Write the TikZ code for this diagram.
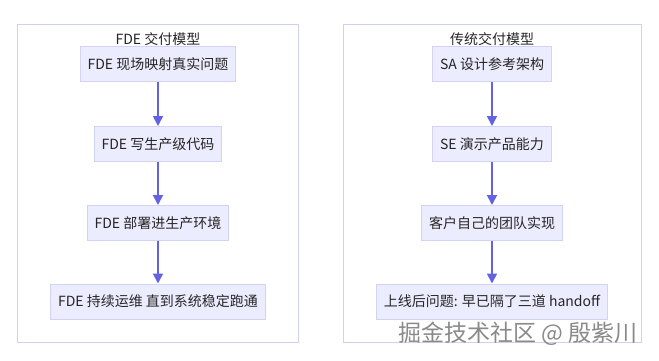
\documentclass[tikz,border=0pt]{standalone}
\usepackage{fontspec}
\setmainfont{Noto Sans CJK SC}
\usetikzlibrary{arrows.meta}
\definecolor{nodefill}{HTML}{ECECFF}
\definecolor{nodeline}{HTML}{D2D2F4}
\definecolor{clusterline}{HTML}{D0D0F2}
\definecolor{arrowc}{HTML}{6262E2}
\definecolor{wmark}{HTML}{8A8A8A}
\tikzset{
  stepbox/.style={draw=nodeline, fill=nodefill, line width=1pt, minimum height=35pt, inner xsep=7.5pt, inner ysep=0pt, font=\fontsize{14}{16}\selectfont, text=black!85},
  cluster/.style={draw=clusterline, fill=white, line width=1pt},
  flow/.style={draw=arrowc, line width=1.8pt, -{Triangle[length=10pt,width=10pt]}},
  ctitle/.style={font=\fontsize{14}{16}\selectfont, text=black!85, inner sep=0pt},
}
\begin{document}
\begin{tikzpicture}[x=1pt,y=-1pt]
\useasboundingbox[fill=white] (0,0) rectangle (659,361);
\draw[cluster] (17,25) rectangle (298,342);
\draw[cluster] (343,25) rectangle (641,342);
\node[ctitle] (lt) at (158,39) {FDE 交付模型};
\node[ctitle] (rt) at (492,39) {传统交付模型};
\node[stepbox] (l1) at (158,64.5) {FDE 现场映射真实问题};
\node[stepbox] (l2) at (158,144) {FDE 写生产级代码};
\node[stepbox] (l3) at (158,223) {FDE 部署进生产环境};
\node[stepbox] (l4) at (158,301.5) {FDE 持续运维 直到系统稳定跑通};
\node[stepbox] (r1) at (492,64.5) {SA 设计参考架构};
\node[stepbox] (r2) at (492,144) {SE 演示产品能力};
\node[stepbox] (r3) at (492,223) {客户自己的团队实现};
\node[stepbox] (r4) at (492,301.5) {上线后问题: 早已隔了三道 handoff};
\draw[flow] (l1) -- (l2);
\draw[flow] (l2) -- (l3);
\draw[flow] (l3) -- (l4);
\draw[flow] (r1) -- (r2);
\draw[flow] (r2) -- (r3);
\draw[flow] (r3) -- (r4);
\node[font=\fontsize{23}{26}\selectfont, text=wmark, inner sep=0pt] (wm) at (518,334) {掘金技术社区 @ 殷紫川};
\end{tikzpicture}
\end{document}
